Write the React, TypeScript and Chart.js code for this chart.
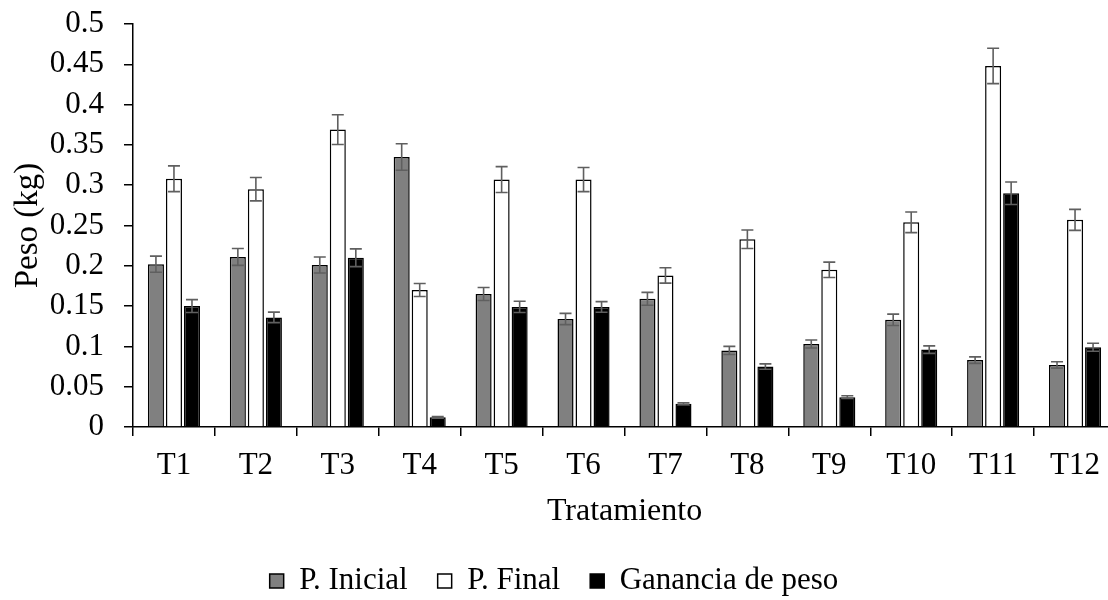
import React, { useEffect, useRef } from "react";
import { Chart, registerables } from "chart.js";

Chart.register(...registerables);

const categories = ["T1", "T2", "T3", "T4", "T5", "T6", "T7", "T8", "T9", "T10", "T11", "T12"];
const seriesNames = ["P. Inicial", "P. Final", "Ganancia de peso"];

const pInicial = [0.202, 0.211, 0.201, 0.335, 0.165, 0.134, 0.159, 0.095, 0.103, 0.133, 0.083, 0.077];
const pInicialErr = [0.010, 0.0105, 0.010, 0.0165, 0.008, 0.007, 0.008, 0.005, 0.005, 0.007, 0.004, 0.004];

const pFinal = [0.308, 0.295, 0.369, 0.170, 0.307, 0.307, 0.188, 0.233, 0.195, 0.254, 0.448, 0.257];
const pFinalErr = [0.016, 0.0145, 0.0185, 0.008, 0.016, 0.015, 0.0095, 0.0115, 0.0095, 0.0128, 0.022, 0.013];

const ganancia = [0.150, 0.136, 0.210, 0.012, 0.149, 0.149, 0.029, 0.075, 0.037, 0.096, 0.290, 0.099];
const gananciaErr = [0.008, 0.0065, 0.011, 0.001, 0.007, 0.0066, 0.001, 0.0033, 0.0017, 0.0046, 0.014, 0.005];

const yMin = 0;
const yMax = 0.5;
const yStep = 0.05;

const FONT = '"Liberation Serif", "Times New Roman", serif';

const errorBarPlugin = {
  id: "errorBars",
  afterDatasetsDraw(chart: any) {
    const ctx = chart.ctx;
    const yScale = chart.scales.y;
    chart.data.datasets.forEach((ds: any, i: number) => {
      const meta = chart.getDatasetMeta(i);
      if (meta.hidden) return;
      const errs: number[] = ds.errors || [];
      meta.data.forEach((el: any, j: number) => {
        const v = ds.data[j];
        const e = errs[j] || 0;
        const x = el.x;
        const yt = yScale.getPixelForValue(v + e);
        const yb = yScale.getPixelForValue(v - e);
        const cap = 6;
        ctx.save();
        ctx.strokeStyle = "#5f5f5f";
        ctx.lineWidth = 1.6;
        ctx.beginPath();
        ctx.moveTo(x, yt);
        ctx.lineTo(x, yb);
        ctx.moveTo(x - cap, yt);
        ctx.lineTo(x + cap, yt);
        ctx.moveTo(x - cap, yb);
        ctx.lineTo(x + cap, yb);
        ctx.stroke();
        ctx.restore();
      });
    });
  },
};

// keep the legend centred on the visible 1108px page width
const legendCenterPlugin = {
  id: "legendCenter",
  afterLayout(chart: any) {
    const lg = chart.legend;
    if (!lg) return;
    const center = 554;
    lg.right = 2 * center - lg.left;
    lg.width = lg.right - lg.left;
  },
};

export default function App() {
  const canvasRef = useRef<HTMLCanvasElement | null>(null);

  useEffect(() => {
    if (!canvasRef.current) return;
    const common = {
      borderColor: "#000000",
      borderWidth: 1.5,
      barPercentage: 0.89,
      categoryPercentage: 0.66,
    };
    const chart = new Chart(canvasRef.current, {
      type: "bar",
      data: {
        labels: categories,
        datasets: [
          { label: seriesNames[0], data: pInicial, errors: pInicialErr, backgroundColor: "#808080", ...common } as any,
          { label: seriesNames[1], data: pFinal, errors: pFinalErr, backgroundColor: "#ffffff", ...common } as any,
          { label: seriesNames[2], data: ganancia, errors: gananciaErr, backgroundColor: "#000000", ...common } as any,
        ],
      },
      options: {
        responsive: false,
        animation: false,
        layout: { padding: { top: 24, left: 7, right: 0, bottom: 0 } },
        plugins: {
          tooltip: { enabled: false },
          legend: {
            position: "bottom",
            maxHeight: 64.5,
            labels: {
              font: { family: FONT, size: 31 },
              color: "#000000",
              boxWidth: 14,
              boxHeight: 14,
              padding: 30,
            },
          },
        },
        scales: {
          x: {
            afterFit: (scale: any) => {
              scale.height = 108.5;
            },
            grid: {
              display: true,
              drawOnChartArea: false,
              offset: true,
              tickLength: 9,
              color: "#000000",
              lineWidth: 1.5,
            },
            border: { color: "#000000", width: 1.5 },
            ticks: {
              font: { family: FONT, size: 31 },
              color: "#000000",
              padding: 11,
              maxRotation: 0,
            },
            title: {
              display: true,
              text: "Tratamiento",
              font: { family: FONT, size: 32 },
              color: "#000000",
              padding: { top: 8, bottom: 5 },
            },
          },
          y: {
            min: yMin,
            max: yMax,
            afterFit: (scale: any) => {
              scale.width = 126;
              scale.paddingTop = 0;
              scale.paddingBottom = 0;
            },
            grid: {
              display: true,
              drawOnChartArea: false,
              tickLength: 9,
              color: "#000000",
              lineWidth: 1.5,
            },
            border: { color: "#000000", width: 1.5 },
            ticks: {
              stepSize: yStep,
              autoSkip: false,
              font: { family: FONT, size: 31 },
              color: "#000000",
              padding: 20,
              callback: (v: any) => parseFloat(Number(v).toFixed(2)).toString(),
            },
            title: {
              display: true,
              text: "Peso (kg)",
              font: { family: FONT, size: 33 },
              color: "#000000",
              padding: { top: 2, bottom: 2 },
            },
          },
        },
      },
      plugins: [errorBarPlugin, legendCenterPlugin],
    });
    return () => chart.destroy();
  }, []);

  return (
    <div style={{ position: "absolute", left: 0, top: 0, width: 1108, height: 600, overflow: "hidden", background: "#ffffff" }}>
      <canvas ref={canvasRef} width={1116} height={600} style={{ width: 1116, height: 600, display: "block" }} />
    </div>
  );
}
